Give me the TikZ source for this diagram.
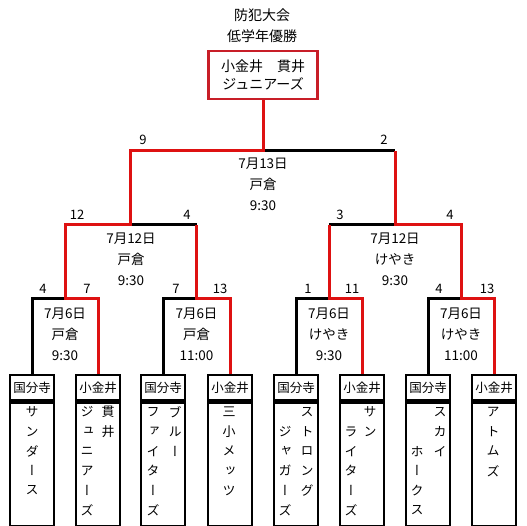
\documentclass[tikz,border=0pt]{standalone}
\usepackage{fontspec}
\setmainfont{Noto Sans CJK JP}
\newfontfamily\tatefont[RawFeature=+vert]{Noto Sans CJK JP}
\usetikzlibrary{positioning}
\definecolor{winred}{RGB}{222,17,17}
\definecolor{champred}{RGB}{200,30,40}

% one column of vertical text: name, x, first row, characters
\newcommand{\tatecol}[4]{%
  \foreach \ch [count=\k from #3] in {#4}
    \node[kana] (#1-\k) at (#2, {412+19.6*(\k-1)}) {\ch};}

\begin{document}
\begin{tikzpicture}[x=1pt, y=-1pt,
    teamhead/.style={draw, line width=2.6pt, minimum width=44pt, minimum height=25pt, inner sep=0pt, font=\fontsize{12.5}{14}\selectfont},
    teambody/.style={draw, line width=2.6pt, minimum width=44pt, minimum height=124pt, inner sep=0pt},
    kana/.style={inner sep=0pt, font=\tatefont\fontsize{13}{14}\selectfont},
    champbox/.style={draw=champred, line width=2.6pt, minimum width=109pt, minimum height=48pt, inner sep=0pt, align=center, font=\fontsize{14}{18}\selectfont},
    title/.style={align=center, font=\fontsize{14}{21}\selectfont},
    info/.style={align=center, font=\fontsize{13.5}{21}\selectfont},
    score/.style={inner sep=0pt, font=\fontsize{13}{15}\selectfont},
    lose/.style={line width=3pt, draw=black},
    win/.style={line width=3pt, draw=winred}
]
\useasboundingbox (0,0) rectangle (527,526);

% Title and champion
\node[title] (title) at (262,25.5) {防犯大会\\低学年優勝};
\node[champbox] (champ) at (263,75) {小金井　貫井\\ジュニアーズ};

% Teams
\node[teamhead] (h1) at (32,387.5) {国分寺};
\node[teamhead] (h2) at (98,387.5) {小金井};
\node[teamhead] (h3) at (163,387.5) {国分寺};
\node[teamhead] (h4) at (230,387.5) {小金井};
\node[teamhead] (h5) at (296,387.5) {国分寺};
\node[teamhead] (h6) at (362,387.5) {小金井};
\node[teamhead] (h7) at (428,387.5) {国分寺};
\node[teamhead] (h8) at (494,387.5) {小金井};
\node[teambody, below=0pt of h1] (b1) {};
\node[teambody, below=0pt of h2] (b2) {};
\node[teambody, below=0pt of h3] (b3) {};
\node[teambody, below=0pt of h4] (b4) {};
\node[teambody, below=0pt of h5] (b5) {};
\node[teambody, below=0pt of h6] (b6) {};
\node[teambody, below=0pt of h7] (b7) {};
\node[teambody, below=0pt of h8] (b8) {};

% Team names
\tatecol{n1}{32}{1}{サ,ン,ダ,ー,ス}
\tatecol{n2r}{108}{1}{貫,井}
\tatecol{n2l}{87}{1}{ジ,ュ,ニ,ア,ー,ズ}
\tatecol{n3r}{175}{1}{ブ,ル,ー}
\tatecol{n3l}{153}{1}{フ,ァ,イ,タ,ー,ズ}
\tatecol{n4}{229}{1}{三,小,メ,ッ,ツ}
\tatecol{n5r}{307}{1}{ス,ト,ロ,ン,グ}
\tatecol{n5l}{285}{2}{ジ,ャ,ガ,ー,ズ}
\tatecol{n6r}{370}{1}{サ,ン}
\tatecol{n6l}{351}{2}{ラ,イ,タ,ー,ズ}
\tatecol{n7r}{440}{1}{ス,カ,イ}
\tatecol{n7l}{417}{3}{ホ,ー,ク,ス}
\tatecol{n8}{493}{1}{ア,ト,ム,ズ}

% Matches
\coordinate (m1) at (65,299);
\coordinate (m2) at (196.5,299);
\coordinate (m3) at (329,299);
\coordinate (m4) at (461,299);
\coordinate (s1) at (130.75,225);
\coordinate (s2) at (395,225);
\coordinate (f) at (263,151);

\node[info] (info-m1) at (65,334) {7月6日\\戸倉\\9:30};
\node[info] (info-m2) at (196.5,334) {7月6日\\戸倉\\11:00};
\node[info] (info-m3) at (329,334) {7月6日\\けやき\\9:30};
\node[info] (info-m4) at (461,334) {7月6日\\けやき\\11:00};
\node[info] (info-s1) at (131,259) {7月12日\\戸倉\\9:30};
\node[info] (info-s2) at (395,259) {7月12日\\けやき\\9:30};
\node[info] (info-f) at (263,184) {7月13日\\戸倉\\9:30};

% Scores
\node[score] (sc-m1l) at (43,289) {4};
\node[score] (sc-m1r) at (87,289) {7};
\node[score] (sc-m2l) at (176,289) {7};
\node[score] (sc-m2r) at (220,289) {13};
\node[score] (sc-m3l) at (308,289) {1};
\node[score] (sc-m3r) at (352,289) {11};
\node[score] (sc-m4l) at (439,289) {4};
\node[score] (sc-m4r) at (487,289) {13};
\node[score] (sc-s1l) at (77,215) {12};
\node[score] (sc-s1r) at (187,215) {4};
\node[score] (sc-s2l) at (340,215) {3};
\node[score] (sc-s2r) at (450,215) {4};
\node[score] (sc-fl) at (143,140) {9};
\node[score] (sc-fr) at (384,140) {2};

% Losing lines
\draw[lose] (h1.north) |- (m1);
\draw[lose] (h3.north) |- (m2);
\draw[lose] (h5.north) |- (m3);
\draw[lose] (h7.north) |- (m4);
\draw[lose] (m2 |- s1) -- (s1);
\draw[lose] (m3 |- s2) -- (s2);
\draw[lose] (s2 |- f) -- (f);

% Winning lines
\draw[win] (h2.north) |- (m1) |- (s1) |- (f) -- (champ.south);
\draw[win] (h4.north) |- (m2) -- (m2 |- s1);
\draw[win] (h6.north) |- (m3) -- (m3 |- s2);
\draw[win] (h8.north) |- (m4) |- (s2) -- (s2 |- f);

\end{tikzpicture}
\end{document}
